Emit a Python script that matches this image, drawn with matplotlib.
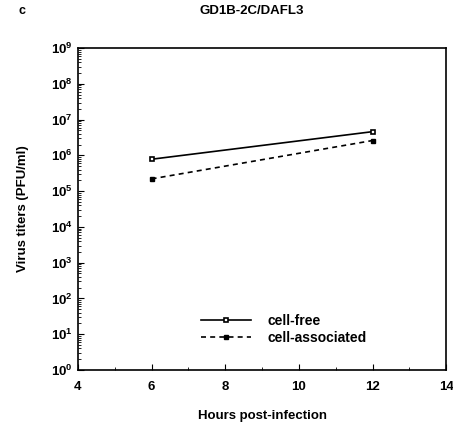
import matplotlib
matplotlib.use("Agg")
import matplotlib.pyplot as plt
from matplotlib.ticker import LogLocator, MultipleLocator, NullFormatter

plt.rcParams['font.family'] = ['Liberation Sans', 'DejaVu Sans']
plt.rcParams['font.weight'] = 'bold'
plt.rcParams['mathtext.default'] = 'bf'

# data
hours = [6, 12]
cell_free = [7.8e5, 4.6e6]
cell_associated = [2.2e5, 2.6e6]

fig = plt.figure(figsize=(4.53, 4.29), dpi=100)
ax = fig.add_axes([0.172, 0.1375, 0.813, 0.7505])

ax.plot(hours, cell_free, color='black', linestyle='-', linewidth=1.2,
        marker='s', markersize=3.5, markerfacecolor='white', markeredgewidth=1.2,
        label='cell-free')
ax.plot(hours, cell_associated, color='black', linestyle=(0, (3, 2.5)), linewidth=1.2,
        marker='s', markersize=3.5, markerfacecolor='black',
        label='cell-associated')

ax.set_yscale('log')
ax.set_ylim(1, 1e9)
ax.set_xlim(4, 14)
ax.xaxis.set_major_locator(MultipleLocator(2))
ax.xaxis.set_minor_locator(MultipleLocator(1))
ax.yaxis.set_major_locator(LogLocator(base=10, numticks=12))
ax.yaxis.set_minor_locator(LogLocator(base=10, subs=[2, 3, 4, 5, 6, 7, 8, 9], numticks=12))
ax.yaxis.set_minor_formatter(NullFormatter())
ax.tick_params(which='both', direction='in', labelsize=9.5)
ax.tick_params(axis='x', pad=8)
ax.tick_params(which='major', length=4)
ax.tick_params(which='minor', length=2)
for s in ax.spines.values():
    s.set_linewidth(1.2)

ax.set_xlabel('Hours post-infection', fontsize=9.5, fontweight='bold', labelpad=12)
ax.set_ylabel('Virus titers (PFU/ml)', fontsize=9.5, fontweight='bold', labelpad=16)

fig.text(0.04, 0.975, 'c', fontsize=9, fontweight='bold', va='center')
fig.text(0.556, 0.975, 'GD1B-2C/DAFL3', fontsize=9.5, fontweight='bold',
         ha='center', va='center')

ax.legend(loc='lower center', bbox_to_anchor=(0.56, 0.04), frameon=False,
          fontsize=10, handlelength=3.6, labelspacing=0.2, handletextpad=1.2)

fig.savefig('out.png', dpi=100)
